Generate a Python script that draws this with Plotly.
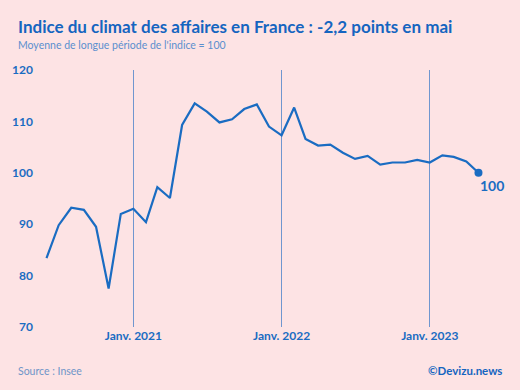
import plotly.graph_objects as go

months = ["2020-06-01", "2020-07-01", "2020-08-01", "2020-09-01", "2020-10-01", "2020-11-01",
          "2020-12-01", "2021-01-01", "2021-02-01", "2021-03-01", "2021-04-01", "2021-05-01",
          "2021-06-01", "2021-07-01", "2021-08-01", "2021-09-01", "2021-10-01", "2021-11-01",
          "2021-12-01", "2022-01-01", "2022-02-01", "2022-03-01", "2022-04-01", "2022-05-01",
          "2022-06-01", "2022-07-01", "2022-08-01", "2022-09-01", "2022-10-01", "2022-11-01",
          "2022-12-01", "2023-01-01", "2023-02-01", "2023-03-01", "2023-04-01", "2023-05-01"]
values = [83.4, 89.8, 93.2, 92.8, 89.5, 77.5,
          92.0, 93.0, 90.4, 97.2, 95.1, 109.3,
          113.5, 111.9, 109.8, 110.4, 112.4, 113.3,
          109.0, 107.3, 112.7, 106.6, 105.3, 105.5,
          103.9, 102.7, 103.3, 101.6, 102.0, 102.0,
          102.5, 102.0, 103.4, 103.1, 102.2, 100.0]
tick_dates = ["2021-01-01", "2022-01-01", "2023-01-01"]
tick_labels = ["Janv. 2021", "Janv. 2022", "Janv. 2023"]
y_ticks = [70, 80, 90, 100, 110, 120]

BLUE = "#1a6cc2"
BG = "#fde3e4"
FONT = "Lato"

fig = go.Figure()
fig.add_trace(go.Scatter(x=months, y=values, mode="lines",
                         line=dict(color=BLUE, width=2.2), hoverinfo="skip"))
fig.add_trace(go.Scatter(x=[months[-1]], y=[values[-1]], mode="markers",
                         marker=dict(color=BLUE, size=8),
                         hoverinfo="skip", cliponaxis=False))
fig.add_annotation(x=months[-1], y=values[-1], text=f"{values[-1]:.0f}", showarrow=False,
                   xanchor="left", yanchor="middle", xshift=0, yshift=-13,
                   font=dict(family=FONT, size=14, color=BLUE, weight="bold"))

fig.update_layout(
    width=520, height=390,
    paper_bgcolor=BG, plot_bgcolor=BG,
    margin=dict(l=40, r=20, t=70, b=63, autoexpand=False),
    showlegend=False,
    font=dict(family=FONT, color=BLUE),
    xaxis=dict(type="date", range=["2020-05-16", "2023-06-23"],
               tickvals=tick_dates, ticktext=tick_labels,
               showgrid=True, gridcolor="#7096cf", gridwidth=1,
               zeroline=False, showline=False, ticks="",
               tickfont=dict(family=FONT, size=12, color=BLUE, weight="bold")),
    yaxis=dict(range=[70, 120], tickvals=y_ticks, showgrid=False, zeroline=False,
               showline=False, ticks="", ticklabelstandoff=6,
               tickfont=dict(family=FONT, size=12, color=BLUE, weight="bold")),
)

W, H = 520, 390
l, r, t, b = 40, 20, 70, 63
pw, ph = W - l - r, H - t - b


def px_ann(px, py, text, anchor, font):
    fig.add_annotation(x=(px - l) / pw, y=1 - (py - t) / ph, xref="paper", yref="paper",
                       text=text, showarrow=False, xanchor=anchor, yanchor="middle", font=font)


px_ann(16, 27, "Indice du climat des affaires en France : -2,2 points en mai", "left",
       dict(family=FONT, size=17, color="#1565c0", weight="bold"))
px_ann(16, 45, "Moyenne de longue période de l'indice = 100", "left",
       dict(family=FONT, size=10.5, color="#5b8fce"))
px_ann(16, 371, "Source : Insee", "left",
       dict(family=FONT, size=10.5, color="#6f95c8"))
px_ann(504, 370, "©Devizu.news", "right",
       dict(family=FONT, size=11.5, color="#1565c0", weight="bold"))

fig.write_html("out.html", config={"displayModeBar": False},
               post_script="document.body.style.margin='0';document.body.style.padding='0';")
